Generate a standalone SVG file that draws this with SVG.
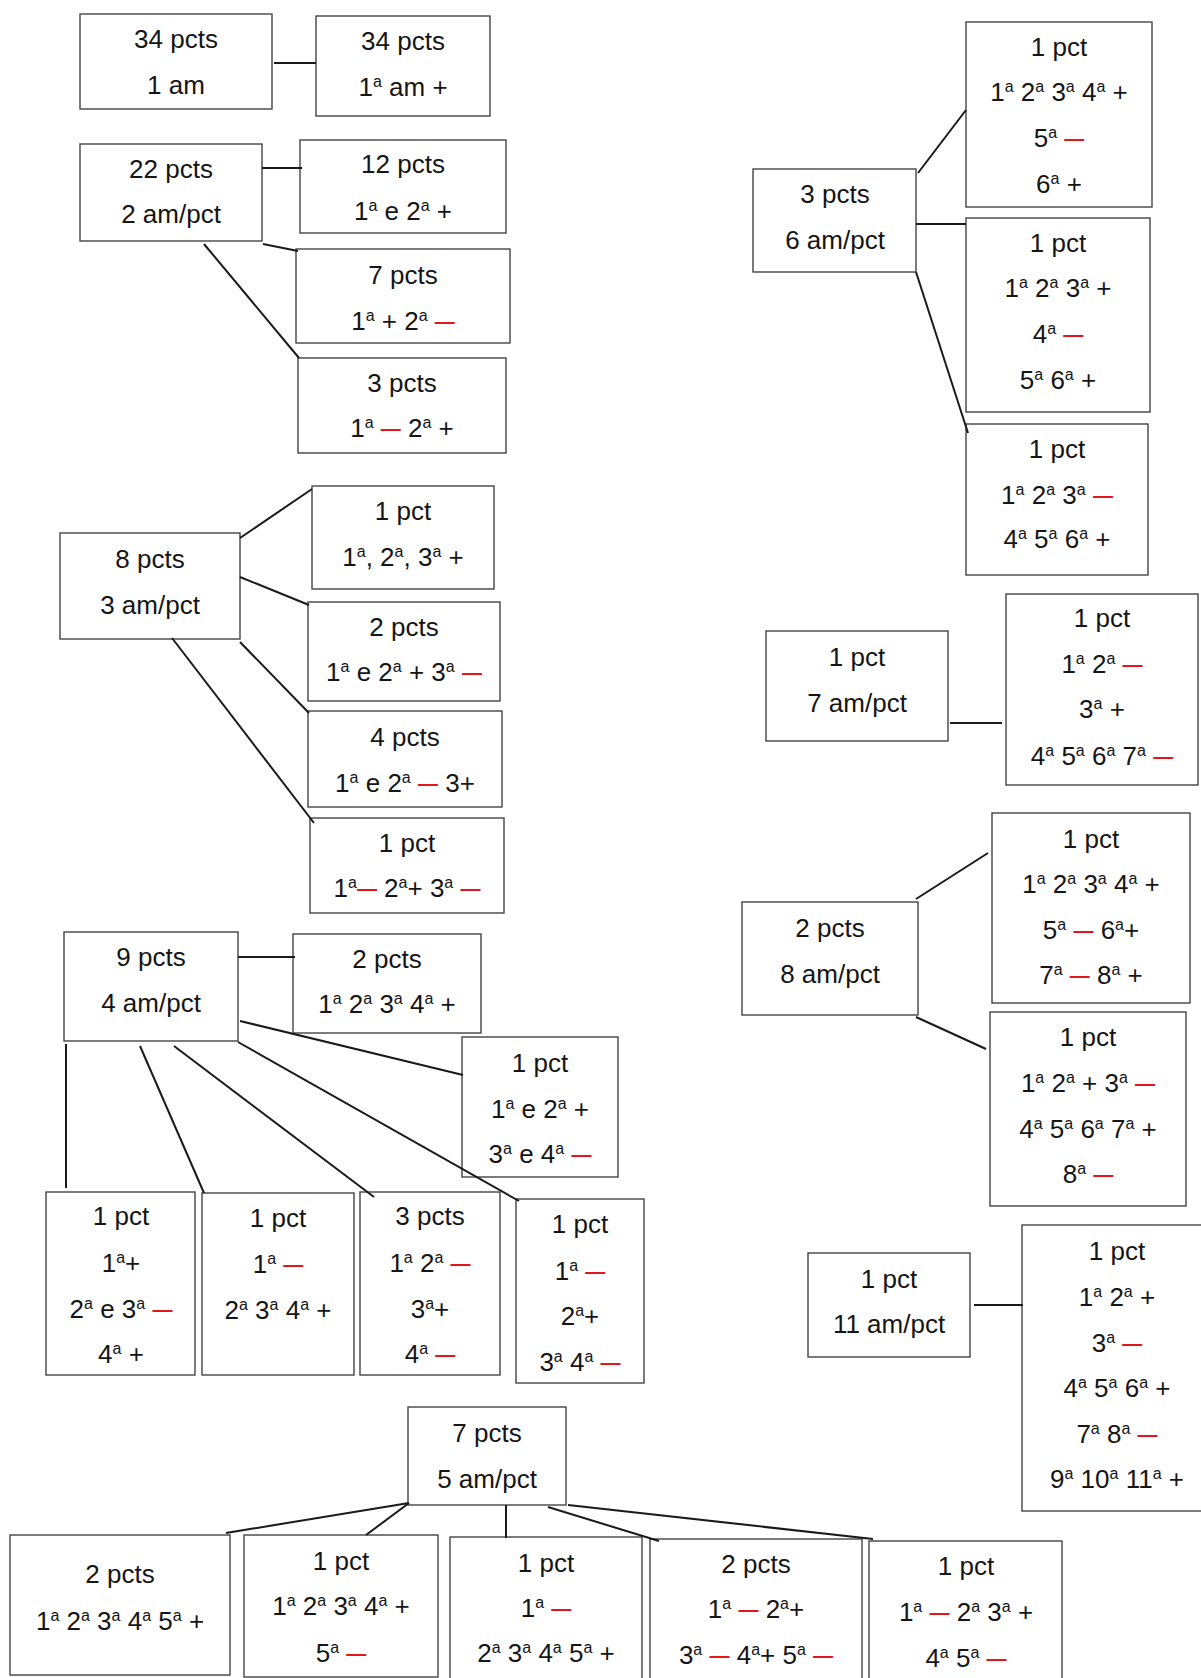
<svg xmlns="http://www.w3.org/2000/svg" width="1201" height="1678" viewBox="0 0 1201 1678">
<style>
text { font-family: "Liberation Sans", Arial, sans-serif; font-size: 26px; fill: #151515; text-anchor: middle; }
.s { font-size: 16px; baseline-shift: 9px; }
.r { fill: #e3161b; font-size: 20px; font-weight: bold; baseline-shift: 2px; }
rect { fill: #ffffff; stroke: #444444; stroke-width: 1.4; }
#connectors line { stroke: #1a1a1a; stroke-width: 2; }
</style>
<rect x="0" y="0" width="1201" height="1678" style="fill:#ffffff;stroke:none"/>
<g id="nodes">
<g id="A1"><rect x="80" y="14" width="192" height="95"/><text x="176" y="48">34 pcts</text><text x="176" y="94">1 am</text></g>
<g id="A2"><rect x="316" y="16" width="174" height="100"/><text x="403" y="50">34 pcts</text><text x="403" y="96">1<tspan class="s">a</tspan> am +</text></g>
<g id="B1"><rect x="80" y="144" width="182" height="97"/><text x="171" y="178">22 pcts</text><text x="171" y="223">2 am/pct</text></g>
<g id="B2"><rect x="300" y="140" width="206" height="93"/><text x="403" y="173">12 pcts</text><text x="403" y="220">1<tspan class="s">a</tspan> e 2<tspan class="s">a</tspan> +</text></g>
<g id="B3"><rect x="296" y="249" width="214" height="94"/><text x="403" y="284">7 pcts</text><text x="403" y="330">1<tspan class="s">a</tspan> + 2<tspan class="s">a</tspan> <tspan class="r">—</tspan></text></g>
<g id="B4"><rect x="298" y="358" width="208" height="95"/><text x="402" y="392">3 pcts</text><text x="402" y="437">1<tspan class="s">a</tspan> <tspan class="r">—</tspan> 2<tspan class="s">a</tspan> +</text></g>
<g id="C1"><rect x="60" y="533" width="180" height="106"/><text x="150" y="568">8 pcts</text><text x="150" y="614">3 am/pct</text></g>
<g id="C2"><rect x="312" y="486" width="182" height="103"/><text x="403" y="520">1 pct</text><text x="403" y="566">1<tspan class="s">a</tspan>, 2<tspan class="s">a</tspan>, 3<tspan class="s">a</tspan> +</text></g>
<g id="C3"><rect x="308" y="602" width="192" height="99"/><text x="404" y="636">2 pcts</text><text x="404" y="681">1<tspan class="s">a</tspan> e 2<tspan class="s">a</tspan> + 3<tspan class="s">a</tspan> <tspan class="r">—</tspan></text></g>
<g id="C4"><rect x="308" y="711" width="194" height="96"/><text x="405" y="746">4 pcts</text><text x="405" y="792">1<tspan class="s">a</tspan> e 2<tspan class="s">a</tspan> <tspan class="r">—</tspan> 3+</text></g>
<g id="C5"><rect x="310" y="818" width="194" height="95"/><text x="407" y="852">1 pct</text><text x="407" y="897">1<tspan class="s">a</tspan><tspan class="r">—</tspan> 2<tspan class="s">a</tspan>+ 3<tspan class="s">a</tspan> <tspan class="r">—</tspan></text></g>
<g id="D1"><rect x="64" y="932" width="174" height="109"/><text x="151" y="966">9 pcts</text><text x="151" y="1012">4 am/pct</text></g>
<g id="D2"><rect x="293" y="934" width="188" height="99"/><text x="387" y="968">2 pcts</text><text x="387" y="1013">1<tspan class="s">a</tspan> 2<tspan class="s">a</tspan> 3<tspan class="s">a</tspan> 4<tspan class="s">a</tspan> +</text></g>
<g id="D3"><rect x="462" y="1037" width="156" height="140"/><text x="540" y="1072">1 pct</text><text x="540" y="1118">1<tspan class="s">a</tspan> e 2<tspan class="s">a</tspan> +</text><text x="540" y="1163">3<tspan class="s">a</tspan> e 4<tspan class="s">a</tspan> <tspan class="r">—</tspan></text></g>
<g id="D4"><rect x="46" y="1192" width="149" height="183"/><text x="121" y="1225">1 pct</text><text x="121" y="1272">1<tspan class="s">a</tspan>+</text><text x="121" y="1318">2<tspan class="s">a</tspan> e 3<tspan class="s">a</tspan> <tspan class="r">—</tspan></text><text x="121" y="1363">4<tspan class="s">a</tspan> +</text></g>
<g id="D5"><rect x="202" y="1193" width="152" height="182"/><text x="278" y="1227">1 pct</text><text x="278" y="1273">1<tspan class="s">a</tspan> <tspan class="r">—</tspan></text><text x="278" y="1319">2<tspan class="s">a</tspan> 3<tspan class="s">a</tspan> 4<tspan class="s">a</tspan> +</text></g>
<g id="D6"><rect x="360" y="1192" width="140" height="183"/><text x="430" y="1225">3 pcts</text><text x="430" y="1272">1<tspan class="s">a</tspan> 2<tspan class="s">a</tspan> <tspan class="r">—</tspan></text><text x="430" y="1318">3<tspan class="s">a</tspan>+</text><text x="430" y="1363">4<tspan class="s">a</tspan> <tspan class="r">—</tspan></text></g>
<g id="D7"><rect x="516" y="1199" width="128" height="184"/><text x="580" y="1233">1 pct</text><text x="580" y="1280">1<tspan class="s">a</tspan> <tspan class="r">—</tspan></text><text x="580" y="1325">2<tspan class="s">a</tspan>+</text><text x="580" y="1371">3<tspan class="s">a</tspan> 4<tspan class="s">a</tspan> <tspan class="r">—</tspan></text></g>
<g id="E1"><rect x="408" y="1407" width="158" height="98"/><text x="487" y="1442">7 pcts</text><text x="487" y="1488">5 am/pct</text></g>
<g id="E2"><rect x="10" y="1535" width="220" height="140"/><text x="120" y="1583">2 pcts</text><text x="120" y="1630">1<tspan class="s">a</tspan> 2<tspan class="s">a</tspan> 3<tspan class="s">a</tspan> 4<tspan class="s">a</tspan> 5<tspan class="s">a</tspan> +</text></g>
<g id="E3"><rect x="244" y="1535" width="194" height="142"/><text x="341" y="1570">1 pct</text><text x="341" y="1615">1<tspan class="s">a</tspan> 2<tspan class="s">a</tspan> 3<tspan class="s">a</tspan> 4<tspan class="s">a</tspan> +</text><text x="341" y="1662">5<tspan class="s">a</tspan> <tspan class="r">—</tspan></text></g>
<g id="E4"><rect x="450" y="1537" width="192" height="160"/><text x="546" y="1572">1 pct</text><text x="546" y="1617">1<tspan class="s">a</tspan> <tspan class="r">—</tspan></text><text x="546" y="1662">2<tspan class="s">a</tspan> 3<tspan class="s">a</tspan> 4<tspan class="s">a</tspan> 5<tspan class="s">a</tspan> +</text></g>
<g id="E5"><rect x="650" y="1539" width="212" height="160"/><text x="756" y="1573">2 pcts</text><text x="756" y="1618">1<tspan class="s">a</tspan> <tspan class="r">—</tspan> 2<tspan class="s">a</tspan>+</text><text x="756" y="1664">3<tspan class="s">a</tspan> <tspan class="r">—</tspan> 4<tspan class="s">a</tspan>+ 5<tspan class="s">a</tspan> <tspan class="r">—</tspan></text></g>
<g id="E6"><rect x="869" y="1541" width="193" height="160"/><text x="966" y="1575">1 pct</text><text x="966" y="1621">1<tspan class="s">a</tspan> <tspan class="r">—</tspan> 2<tspan class="s">a</tspan> 3<tspan class="s">a</tspan> +</text><text x="966" y="1667">4<tspan class="s">a</tspan> 5<tspan class="s">a</tspan> <tspan class="r">—</tspan></text></g>
<g id="H1"><rect x="753" y="169" width="163" height="103"/><text x="835" y="203">3 pcts</text><text x="835" y="249">6 am/pct</text></g>
<g id="H2"><rect x="966" y="22" width="186" height="185"/><text x="1059" y="56">1 pct</text><text x="1059" y="101">1<tspan class="s">a</tspan> 2<tspan class="s">a</tspan> 3<tspan class="s">a</tspan> 4<tspan class="s">a</tspan> +</text><text x="1059" y="147">5<tspan class="s">a</tspan> <tspan class="r">—</tspan></text><text x="1059" y="193">6<tspan class="s">a</tspan> +</text></g>
<g id="H3"><rect x="966" y="218" width="184" height="194"/><text x="1058" y="252">1 pct</text><text x="1058" y="297">1<tspan class="s">a</tspan> 2<tspan class="s">a</tspan> 3<tspan class="s">a</tspan> +</text><text x="1058" y="343">4<tspan class="s">a</tspan> <tspan class="r">—</tspan></text><text x="1058" y="389">5<tspan class="s">a</tspan> 6<tspan class="s">a</tspan> +</text></g>
<g id="H4"><rect x="966" y="424" width="182" height="151"/><text x="1057" y="458">1 pct</text><text x="1057" y="504">1<tspan class="s">a</tspan> 2<tspan class="s">a</tspan> 3<tspan class="s">a</tspan> <tspan class="r">—</tspan></text><text x="1057" y="548">4<tspan class="s">a</tspan> 5<tspan class="s">a</tspan> 6<tspan class="s">a</tspan> +</text></g>
<g id="I1"><rect x="766" y="631" width="182" height="110"/><text x="857" y="666">1 pct</text><text x="857" y="712">7 am/pct</text></g>
<g id="I2"><rect x="1006" y="594" width="192" height="191"/><text x="1102" y="627">1 pct</text><text x="1102" y="673">1<tspan class="s">a</tspan> 2<tspan class="s">a</tspan> <tspan class="r">—</tspan></text><text x="1102" y="718">3<tspan class="s">a</tspan> +</text><text x="1102" y="765">4<tspan class="s">a</tspan> 5<tspan class="s">a</tspan> 6<tspan class="s">a</tspan> 7<tspan class="s">a</tspan> <tspan class="r">—</tspan></text></g>
<g id="J1"><rect x="742" y="902" width="176" height="113"/><text x="830" y="937">2 pcts</text><text x="830" y="983">8 am/pct</text></g>
<g id="J2"><rect x="992" y="813" width="198" height="190"/><text x="1091" y="848">1 pct</text><text x="1091" y="893">1<tspan class="s">a</tspan> 2<tspan class="s">a</tspan> 3<tspan class="s">a</tspan> 4<tspan class="s">a</tspan> +</text><text x="1091" y="939">5<tspan class="s">a</tspan> <tspan class="r">—</tspan> 6<tspan class="s">a</tspan>+</text><text x="1091" y="984">7<tspan class="s">a</tspan> <tspan class="r">—</tspan> 8<tspan class="s">a</tspan> +</text></g>
<g id="J3"><rect x="990" y="1012" width="196" height="194"/><text x="1088" y="1046">1 pct</text><text x="1088" y="1092">1<tspan class="s">a</tspan> 2<tspan class="s">a</tspan> + 3<tspan class="s">a</tspan> <tspan class="r">—</tspan></text><text x="1088" y="1138">4<tspan class="s">a</tspan> 5<tspan class="s">a</tspan> 6<tspan class="s">a</tspan> 7<tspan class="s">a</tspan> +</text><text x="1088" y="1183">8<tspan class="s">a</tspan> <tspan class="r">—</tspan></text></g>
<g id="K1"><rect x="808" y="1253" width="162" height="104"/><text x="889" y="1288">1 pct</text><text x="889" y="1333">11 am/pct</text></g>
<g id="K2"><rect x="1022" y="1225" width="190" height="286"/><text x="1117" y="1260">1 pct</text><text x="1117" y="1306">1<tspan class="s">a</tspan> 2<tspan class="s">a</tspan> +</text><text x="1117" y="1352">3<tspan class="s">a</tspan> <tspan class="r">—</tspan></text><text x="1117" y="1397">4<tspan class="s">a</tspan> 5<tspan class="s">a</tspan> 6<tspan class="s">a</tspan> +</text><text x="1117" y="1443">7<tspan class="s">a</tspan> 8<tspan class="s">a</tspan> <tspan class="r">—</tspan></text><text x="1117" y="1488">9<tspan class="s">a</tspan> 10<tspan class="s">a</tspan> 11<tspan class="s">a</tspan> +</text></g>
</g>
<g id="connectors">
<line x1="274" y1="63" x2="316" y2="63"/>
<line x1="262" y1="168" x2="302" y2="168"/>
<line x1="263" y1="244" x2="298" y2="251"/>
<line x1="204" y1="244" x2="299" y2="358"/>
<line x1="240" y1="538" x2="312" y2="489"/>
<line x1="240" y1="577" x2="309" y2="605"/>
<line x1="240" y1="642" x2="309" y2="713"/>
<line x1="172" y1="638" x2="314" y2="823"/>
<line x1="238" y1="957" x2="295" y2="957"/>
<line x1="240" y1="1021" x2="463" y2="1075"/>
<line x1="66" y1="1044" x2="66" y2="1188"/>
<line x1="140" y1="1046" x2="204" y2="1193"/>
<line x1="174" y1="1046" x2="374" y2="1197"/>
<line x1="238" y1="1042" x2="519" y2="1201"/>
<line x1="409" y1="1503" x2="226" y2="1533"/>
<line x1="409" y1="1503" x2="366" y2="1535"/>
<line x1="506" y1="1505" x2="506" y2="1538"/>
<line x1="548" y1="1507" x2="659" y2="1541"/>
<line x1="568" y1="1505" x2="873" y2="1539"/>
<line x1="918" y1="173" x2="966" y2="110"/>
<line x1="916" y1="224" x2="966" y2="224"/>
<line x1="916" y1="272" x2="968" y2="433"/>
<line x1="950" y1="723" x2="1002" y2="723"/>
<line x1="916" y1="899" x2="988" y2="853"/>
<line x1="916" y1="1017" x2="986" y2="1049"/>
<line x1="974" y1="1305" x2="1023" y2="1305"/>
</g>
</svg>
